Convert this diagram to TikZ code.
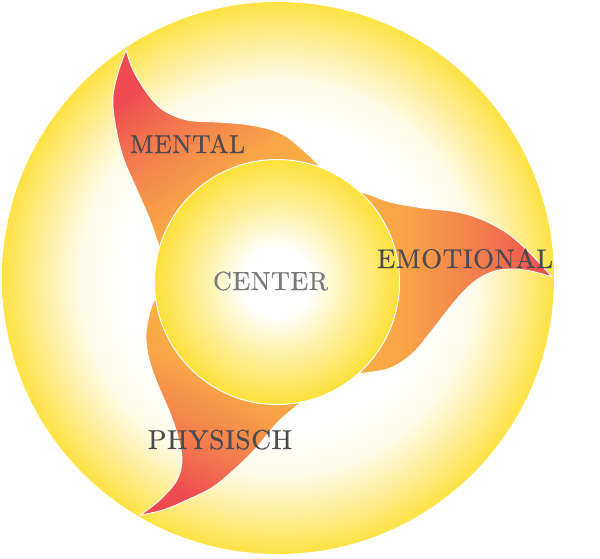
\documentclass[tikz,border=0pt]{standalone}
\usepackage{fontspec}
\newfontfamily\lbfont[LetterSpace=2,FakeBold=0.5]{lmroman10-regular.otf}
\definecolor{sunedge}{HTML}{FFE244}
\definecolor{sunlight}{HTML}{FFF0A6}
\definecolor{suncream}{HTML}{FFFBE6}
\definecolor{coreedge}{HTML}{FFE03A}
\definecolor{coremid}{HTML}{FFF3B0}
\definecolor{flamered}{HTML}{EE4A50}
\definecolor{flameorange}{HTML}{F37A4E}
\definecolor{flameamber}{HTML}{F8A447}
\definecolor{flameyellow}{HTML}{FCBE43}
\definecolor{labeldark}{HTML}{4A4A50}
\definecolor{labelgray}{HTML}{7A7A7A}
\pgfdeclareradialshading{bigsun}{\pgfpoint{0bp}{0bp}}{color(0bp)=(white); color(14bp)=(white); color(18bp)=(suncream); color(21bp)=(sunlight); color(25bp)=(sunedge); color(50bp)=(sunedge)}
\pgfdeclareradialshading{coresun}{\pgfpoint{0bp}{0bp}}{color(0bp)=(white); color(7bp)=(white); color(14bp)=(coremid); color(25bp)=(coreedge); color(50bp)=(coreedge)}
\pgfdeclareverticalshading{flamesh}{100bp}{color(0bp)=(flameyellow); color(25bp)=(flameyellow); color(48bp)=(flameamber); color(63bp)=(flameorange); color(75bp)=(flamered); color(100bp)=(flamered)}
\tikzset{
  flame/.style={draw=white, line width=0.9pt, line join=miter, shade, shading=flamesh},
  lbl/.style={anchor=base, inner sep=0pt, text=labeldark},
}
\begin{document}
\begin{tikzpicture}[x=1pt,y=-1pt]
\useasboundingbox (0,0) rectangle (600,558);
% outer sun
\shade[shading=bigsun] (278,278) circle (276);
% mental flame
\path[flame, shading angle=37]
  plot[smooth, tension=0.6] coordinates {(168,268) (158,243) (150,220) (137,190) (123,157) (115,123) (113,97) (118,73) (126,50)}
  -- plot[smooth, tension=0.6] coordinates {(126,50) (133,70) (147,93) (163,110) (187,120) (217,122) (250,125) (280,133) (303,150) (320,167) (332,187)}
  -- (277,282) -- cycle;
% emotional flame
\path[flame, shading angle=-90]
  plot[smooth, tension=0.6] coordinates {(342,197) (360,192) (390,202) (423,208) (457,212) (483,220) (507,233) (527,250) (543,267) (552,277)}
  -- plot[smooth, tension=0.6] coordinates {(552,277) (535,272) (515,269) (495,271) (478,279) (463,292) (447,311) (430,333) (413,353) (393,367) (373,372) (358,373) (342,370)}
  -- (277,282) -- cycle;
% physisch flame
\path[flame, shading angle=154]
  plot[smooth, tension=0.6] coordinates {(168,290) (155,299) (148,320) (146,340) (150,363) (160,390) (170,413) (178,437) (182,460) (177,480) (163,497) (150,508) (140,515)}
  -- plot[smooth, tension=0.6] coordinates {(140,515) (163,510) (187,500) (213,487) (237,467) (257,447) (277,423) (300,403) (314,390)}
  -- (277,282) -- cycle;
% inner sun
\shadedraw[shading=coresun, draw=white, line width=1pt] (277,282) circle (122.5);
% labels
\node[lbl, font=\lbfont\fontsize{25.8}{30}\selectfont] (mental) at (187.5,153) {MENTAL};
\node[lbl, font=\lbfont\fontsize{27}{32}\selectfont] (emotional) at (465,268) {EMOTIONAL};
\node[lbl, font=\lbfont\fontsize{27.4}{32}\selectfont] (physisch) at (220,449) {PHYSISCH};
\node[lbl, text=labelgray, font=\lbfont\fontsize{26.2}{30}\selectfont] (center) at (270.5,290) {CENTER};
\end{tikzpicture}
\end{document}
